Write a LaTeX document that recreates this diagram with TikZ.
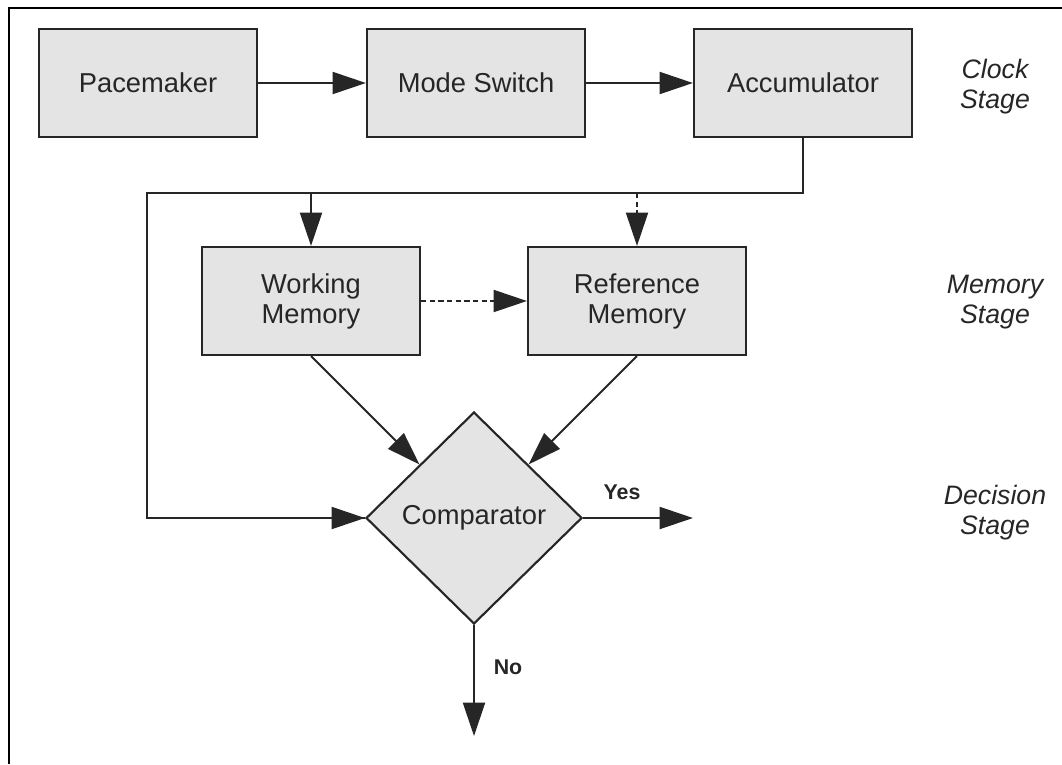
\documentclass[tikz,border=0pt]{standalone}
\usepackage{fontspec}
\setmainfont{Liberation Sans}
\usetikzlibrary{arrows.meta,shapes.geometric,calc}
\definecolor{ink}{HTML}{262626}
\definecolor{boxfill}{HTML}{E4E4E4}
\begin{document}
\begin{tikzpicture}[x=0.75pt,y=-0.75pt,
  blk/.style={draw=ink, line width=1.6pt, fill=boxfill,
    minimum width=163.5pt, minimum height=81pt, inner sep=0pt,
    align=center, text=ink, font=\fontsize{20.5}{22.5}\selectfont},
  decide/.style={diamond, draw=ink, line width=1.6pt, fill=boxfill,
    minimum width=162pt, minimum height=159pt, inner sep=0pt,
    text=ink, font=\fontsize{20.5}{22}\selectfont},
  wire/.style={draw=ink, line width=1.5pt},
  flow/.style={wire, -{Triangle[length=25pt,width=16.5pt]}},
  dflow/.style={flow, dash pattern=on 4pt off 2.5pt},
  stage/.style={align=center, text=ink, font=\fontsize{20}{22.5}\selectfont\itshape},
  answer/.style={text=ink, font=\fontsize{16}{18}\selectfont\bfseries},
]
\useasboundingbox (0,0) rectangle (1062,764);
% frame
\draw[line width=2.2pt, black] (1062,8) -- (9,8) -- (9,764);

% clock stage
\node[blk] (pace) at (148,83) {Pacemaker};
\node[blk] (mode) at (476,83) {Mode Switch};
\node[blk] (acc)  at (803,83) {Accumulator};

% memory stage
\node[blk] (wm) at (311,301) {Working\\Memory};
\node[blk] (rm) at (637,301) {Reference\\Memory};

% decision stage
\node[decide] (cmp) at (474,518) {Comparator};

% stage labels
\node[stage] (sclock) at (995,87)  {Clock\\Stage};
\node[stage] (smem)   at (995,302) {Memory\\Stage};
\node[stage] (sdec)   at (995,513) {Decision\\Stage};

% clock chain
\draw[flow] (pace.east) -- (mode.west);
\draw[flow] (mode.east) -- (acc.west);

% accumulator bus
\coordinate (bus) at (803,193);
\coordinate (busL) at (147,193);
\coordinate (tapW) at (311,193);
\coordinate (tapR) at (637,193);
\draw[wire] (acc.south) -- (bus) -- (busL) |- (cmp.west);
\draw[flow] (busL |- cmp.west) -- (cmp.west);
\draw[flow] (tapW) -- (wm.north);
\draw[dflow] (tapR) -- (rm.north);

% memory to comparator
\draw[dflow] (wm.east) -- (rm.west);
\draw[flow] (wm.south) -- (cmp.north west);
\draw[flow] (rm.south) -- (cmp.north east);

% outcomes
\coordinate (yesEnd) at (693,518);
\coordinate (noEnd) at (474,736);
\draw[flow] (cmp.east) -- (yesEnd);
\draw[flow] (cmp.south) -- (noEnd);
\node[answer] (yes) at (622,492) {Yes};
\node[answer] (no)  at (508,667) {No};
\end{tikzpicture}
\end{document}
